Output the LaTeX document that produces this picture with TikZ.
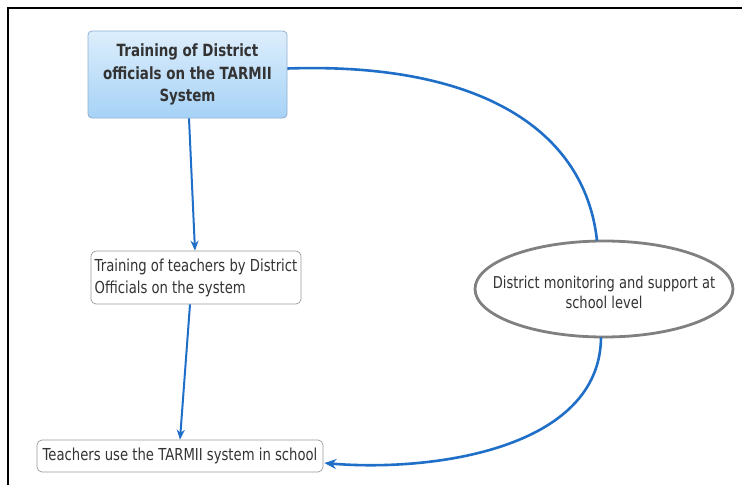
\documentclass[tikz,border=0pt]{standalone}
\usepackage{fontspec}
\setmainfont{DejaVu Sans}[FakeStretch=0.8]
\usetikzlibrary{shapes.geometric,arrows.meta,calc}
\definecolor{txt}{HTML}{333333}
\definecolor{conn}{HTML}{1F6FC8}
\definecolor{bordergray}{HTML}{9A9A9A}
\definecolor{ellgray}{HTML}{808080}
\definecolor{boxtop}{HTML}{DDEEFC}
\definecolor{boxbot}{HTML}{A6D2F6}
\definecolor{boxborder}{HTML}{8FB0D0}
\tikzset{
  mainbox/.style={rectangle, rounded corners=4pt, draw=boxborder, line width=0.8pt,
    top color=boxtop, bottom color=boxbot, minimum width=199pt, minimum height=87pt,
    align=center, text=txt, font=\fontsize{16.8}{22.5}\selectfont\bfseries, inner sep=0pt},
  plainbox/.style={rectangle, rounded corners=5pt, draw=bordergray, line width=0.7pt,
    fill=white, text=txt, font=\fontsize{16.5}{22}\selectfont, inner sep=0pt},
  ellshape/.style={ellipse, draw=ellgray, line width=2.8pt, fill=white,
    minimum width=258pt, minimum height=96pt, inner sep=0pt},
  elltext/.style={align=center, text=txt, font=\fontsize{16.3}{20}\selectfont, inner sep=0pt},
  conn/.style={draw=conn, line width=2pt},
  arr/.style={conn, -{Stealth[length=10pt,width=8pt]}},
}
\begin{document}
\begin{tikzpicture}[x=1pt,y=-1pt]
\useasboundingbox (0,0) rectangle (742,485);
\draw[line width=2pt, black] (8,485) -- (8,8) -- (742,8);
\node[mainbox] (b1) at (187.5,74.5) {Training of District\\officials on the TARMII\\System};
\node[plainbox, minimum width=210pt, minimum height=53pt, align=left] (b2) at (196,277.5)
  {Training of teachers by District\\Officials on the system};
\node[plainbox, minimum width=286pt, minimum height=32pt] (b3) at (180,456)
  {Teachers use the TARMII system in school};
\node[ellshape] (e) at (604,289) {};
\node[elltext] (et) at ($(e.center)+(0,3)$) {District monitoring and support at\\school level};
\draw[arr] ($(b1.south)+(1.5,0)$) -- ($(b2.north)+(-1,0)$);
\draw[arr] ($(b2.south)+(-6,0)$) -- (b3.north);
\draw[conn, line width=2.6pt] ($(b1.east)+(0,-6)$) .. controls (480,62) and (585,130) .. ($(e.north)+(-7,1)$);
\draw[conn, line width=2.6pt, -{Stealth[length=12pt,width=10pt]}] ($(e.south)+(-3,-1)$) .. controls (600,450) and (430,472) .. ($(b3.east)+(1,7)$);
\end{tikzpicture}
\end{document}
